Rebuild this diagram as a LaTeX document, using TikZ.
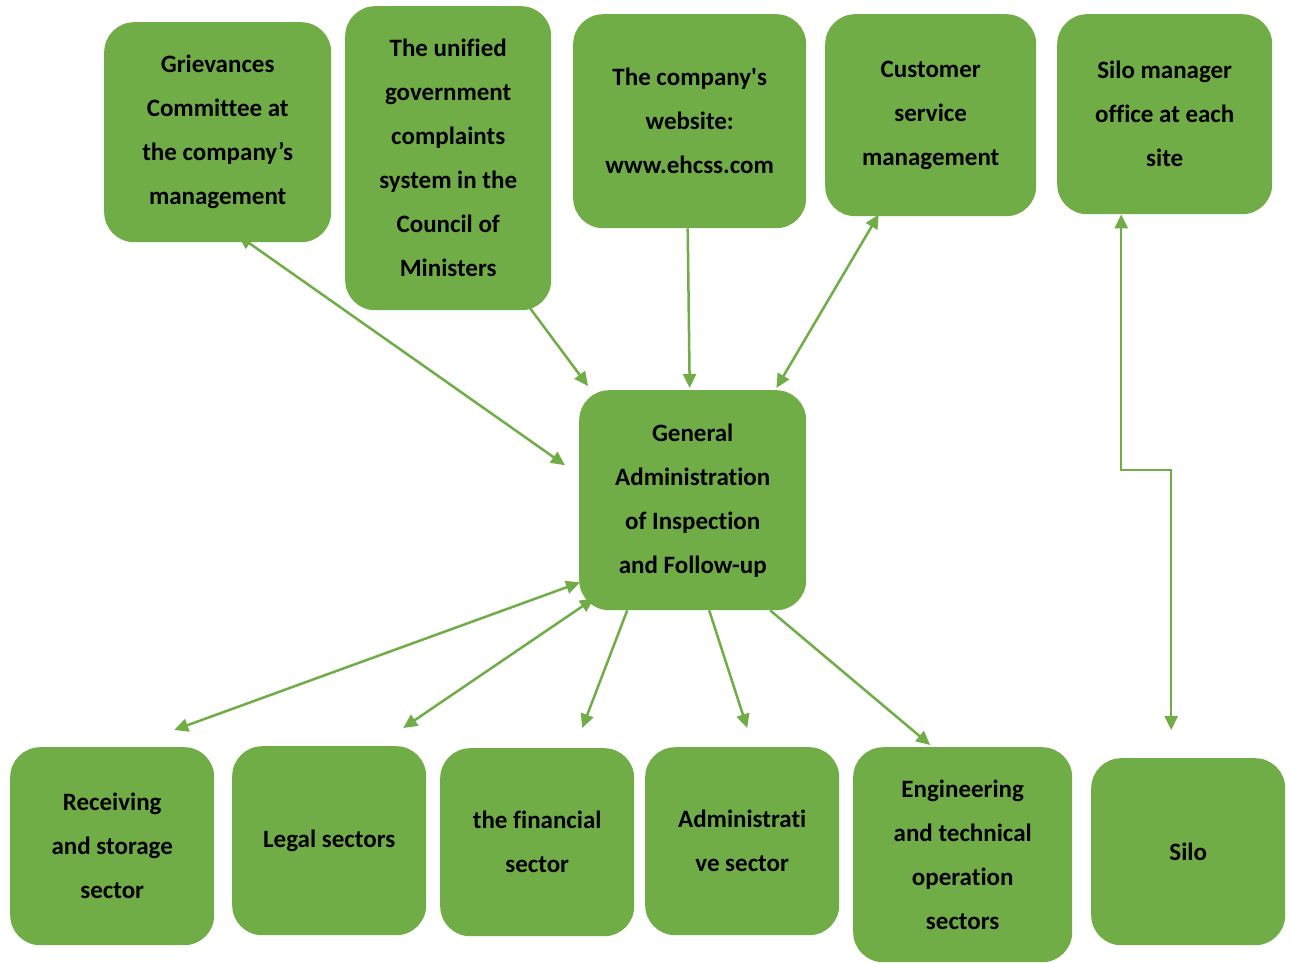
\documentclass[tikz,border=0pt]{standalone}
\usepackage{fontspec}
\setmainfont[Ligatures=NoCommon]{Carlito}
\usetikzlibrary{arrows.meta}
\definecolor{gr}{HTML}{70AD47}
\begin{document}
\begin{tikzpicture}[x=1pt,y=-1pt,
  box/.style={fill=gr,draw=none,rounded corners=30pt,anchor=north west,align=center,
    font=\fontsize{25}{44}\selectfont\bfseries,text=black,inner sep=0pt},
  arr/.style={draw=gr,line width=2.5pt,-{Triangle[length=14pt,width=13pt]}},
  arrd/.style={draw=gr,line width=2.5pt,{Triangle[length=14pt,width=13pt]}-{Triangle[length=14pt,width=13pt]}}]
\useasboundingbox (0,0) rectangle (1292,962);
\pgfdeclarelayer{bg}\pgfsetlayers{bg,main}
\node[box,minimum width=227pt,minimum height=220pt] (g) at (104,22) {Grievances\\Committee at\\the company’s\\management};
\node[box,minimum width=206pt,minimum height=304pt] (u) at (345,6) {The unified\\government\\complaints\\system in the\\Council of\\Ministers};
\node[box,minimum width=233pt,minimum height=214pt] (w) at (573,14) {The company\textquotesingle s\\website:\\www.ehcss.com};
\node[box,minimum width=211pt,minimum height=202pt] (cs) at (825,14) {Customer\\service\\management};
\node[box,minimum width=215pt,minimum height=200pt] (sm) at (1057,14) {Silo manager\\office at each\\site};
\node[box,minimum width=227pt,minimum height=220pt] (c) at (579,390) {General\\Administration\\of Inspection\\and Follow-up};
\node[box,minimum width=204pt,minimum height=198pt] (r) at (10,747) {Receiving\\and storage\\sector};
\node[box,minimum width=194pt,minimum height=189pt] (l) at (232,746) {Legal sectors};
\node[box,minimum width=194pt,minimum height=188pt] (f) at (440,748) {the financial\\sector};
\node[box,minimum width=194pt,minimum height=188pt] (a) at (645,747) {Administrati\\ve sector};
\node[box,minimum width=219pt,minimum height=215pt] (e) at (853,747) {Engineering\\and technical\\operation\\sectors};
\node[box,minimum width=194pt,minimum height=187pt] (s) at (1091,758) {Silo};
\coordinate (bend) at (1146,470);
\begin{pgfonlayer}{bg}
\draw[arrd] ([shift={(20.5,-7)}]g.south) -- ([shift={(-14,-35)}]c.west);
\draw[arr] ([shift={(82,-2)}]u.south) -- ([shift={(9,-4)}]c.north west);
\draw[arr] ([shift={(-2,0)}]w.south) -- ([shift={(-3,-2)}]c.north);
\draw[arrd] ([shift={(-52,-2)}]cs.south) -- ([shift={(-30,-2)}]c.north east);
\draw[arrd] ([shift={(-43.5,0)}]sm.south) |- (bend) -| ([shift={(-17,-28)}]s.north);
\draw[arrd] ([shift={(1,-28)}]c.south west) -- ([shift={(62,-17)}]r.north);
\draw[arrd] ([shift={(15,-12)}]c.south west) -- ([shift={(74,-18)}]l.north);
\draw[arr] ([shift={(-65.5,0)}]c.south) -- ([shift={(45,-20)}]f.north);
\draw[arr] ([shift={(16.5,0)}]c.south) -- ([shift={(5,-19)}]a.north);
\draw[arr] ([shift={(77.5,0)}]c.south) -- ([shift={(-32.5,-2)}]e.north);
\end{pgfonlayer}
\end{tikzpicture}
\end{document}
